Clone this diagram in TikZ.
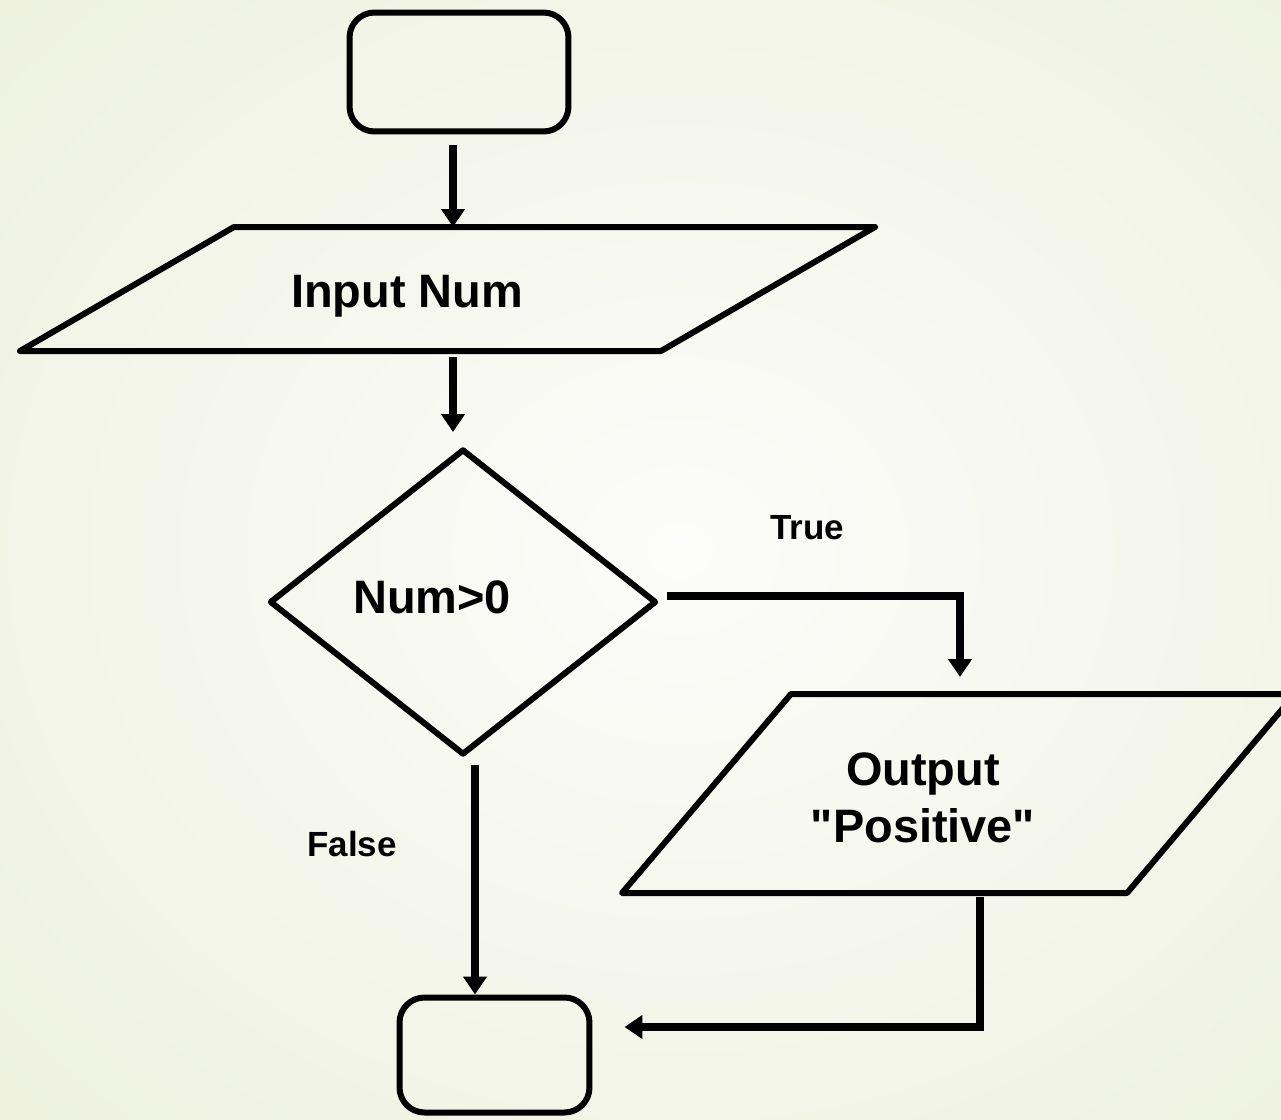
\documentclass[tikz,border=0pt]{standalone}
\usepackage{fontspec}
\setmainfont{Liberation Sans}
\usetikzlibrary{arrows.meta,calc,shapes.geometric}
\definecolor{bginner}{HTML}{FCFCFA}
\definecolor{bgouter}{HTML}{EDF1DD}
\newcommand\straightquote{\XeTeXglyph\XeTeXglyphindex "quotedbl"\relax}
\begin{document}
\begin{tikzpicture}[x=0.02cm,y=0.02cm,
  shp/.style={draw=black,line width=0.12cm,line join=round},
  termbox/.style={shp,rounded corners=0.5cm,inner sep=0pt},
  decbox/.style={shp,diamond,inner sep=0pt,minimum width=7.74cm,minimum height=6.12cm},
  arr/.style={draw=black,line width=0.15cm,-{Triangle[width=0.46cm,length=0.36cm]}},
  bigtxt/.style={font=\fontsize{26.7}{32}\selectfont\bfseries,inner sep=0pt,anchor=base},
  lbltxt/.style={font=\fontsize{19.9}{24}\selectfont\bfseries,inner sep=0pt,anchor=base}]
\useasboundingbox (0,0) rectangle (1281,-1119);
\shade[inner color=bginner,outer color=bgouter] (-320,300) rectangle (1680,-1400);

% start terminal
\node[termbox,minimum width=4.38cm,minimum height=2.38cm] (start) at (459,-72) {};

% input parallelogram
\draw[shp] (234,-227) -- (875,-227) -- (661,-351) -- (20,-351) -- cycle;
\coordinate (inpT) at (453,-227);
\coordinate (inpB) at (453,-351);
\node[bigtxt] (inptxt) at (407,-307) {Input Num};

% decision
\node[decbox] (dec) at (463,-602) {};
\node[bigtxt] (dectxt) at (432,-613) {Num>0};

% output parallelogram
\draw[shp] (791,-694) -- (1295,-694) -- (1127,-893) -- (622,-893) -- cycle;
\coordinate (outT) at (960,-694);
\coordinate (outB) at (980,-893);
\node[bigtxt] (outtxt1) at (923,-785) {Output};
\node[bigtxt] (outtxt2) at (923,-842) {\straightquote Positive\straightquote};

% end terminal
\node[termbox,minimum width=3.8cm,minimum height=2.3cm] (end) at (494.5,-1055) {};

% labels
\node[lbltxt] (truelbl) at (807,-539) {True};
\node[lbltxt] (falselbl) at (352,-856) {False};

% connectors
\draw[arr] ($(start.south)+(-6,-11)$) -- (inpT);
\draw[arr] ($(inpB)+(0,-6)$) -- ($(dec.north)+(-10,14)$);
\draw[arr] ($(dec.east)+(8,6)$) -| ($(outT)+(0,17)$);
\coordinate (fstart) at ($(dec.south)+(12,-7)$);
\draw[arr] (fstart) -- (fstart |- end.north);
\draw[arr] ($(outB)+(0,-4)$) |- ($(end.east)+(32,28)$);
\end{tikzpicture}
\end{document}
